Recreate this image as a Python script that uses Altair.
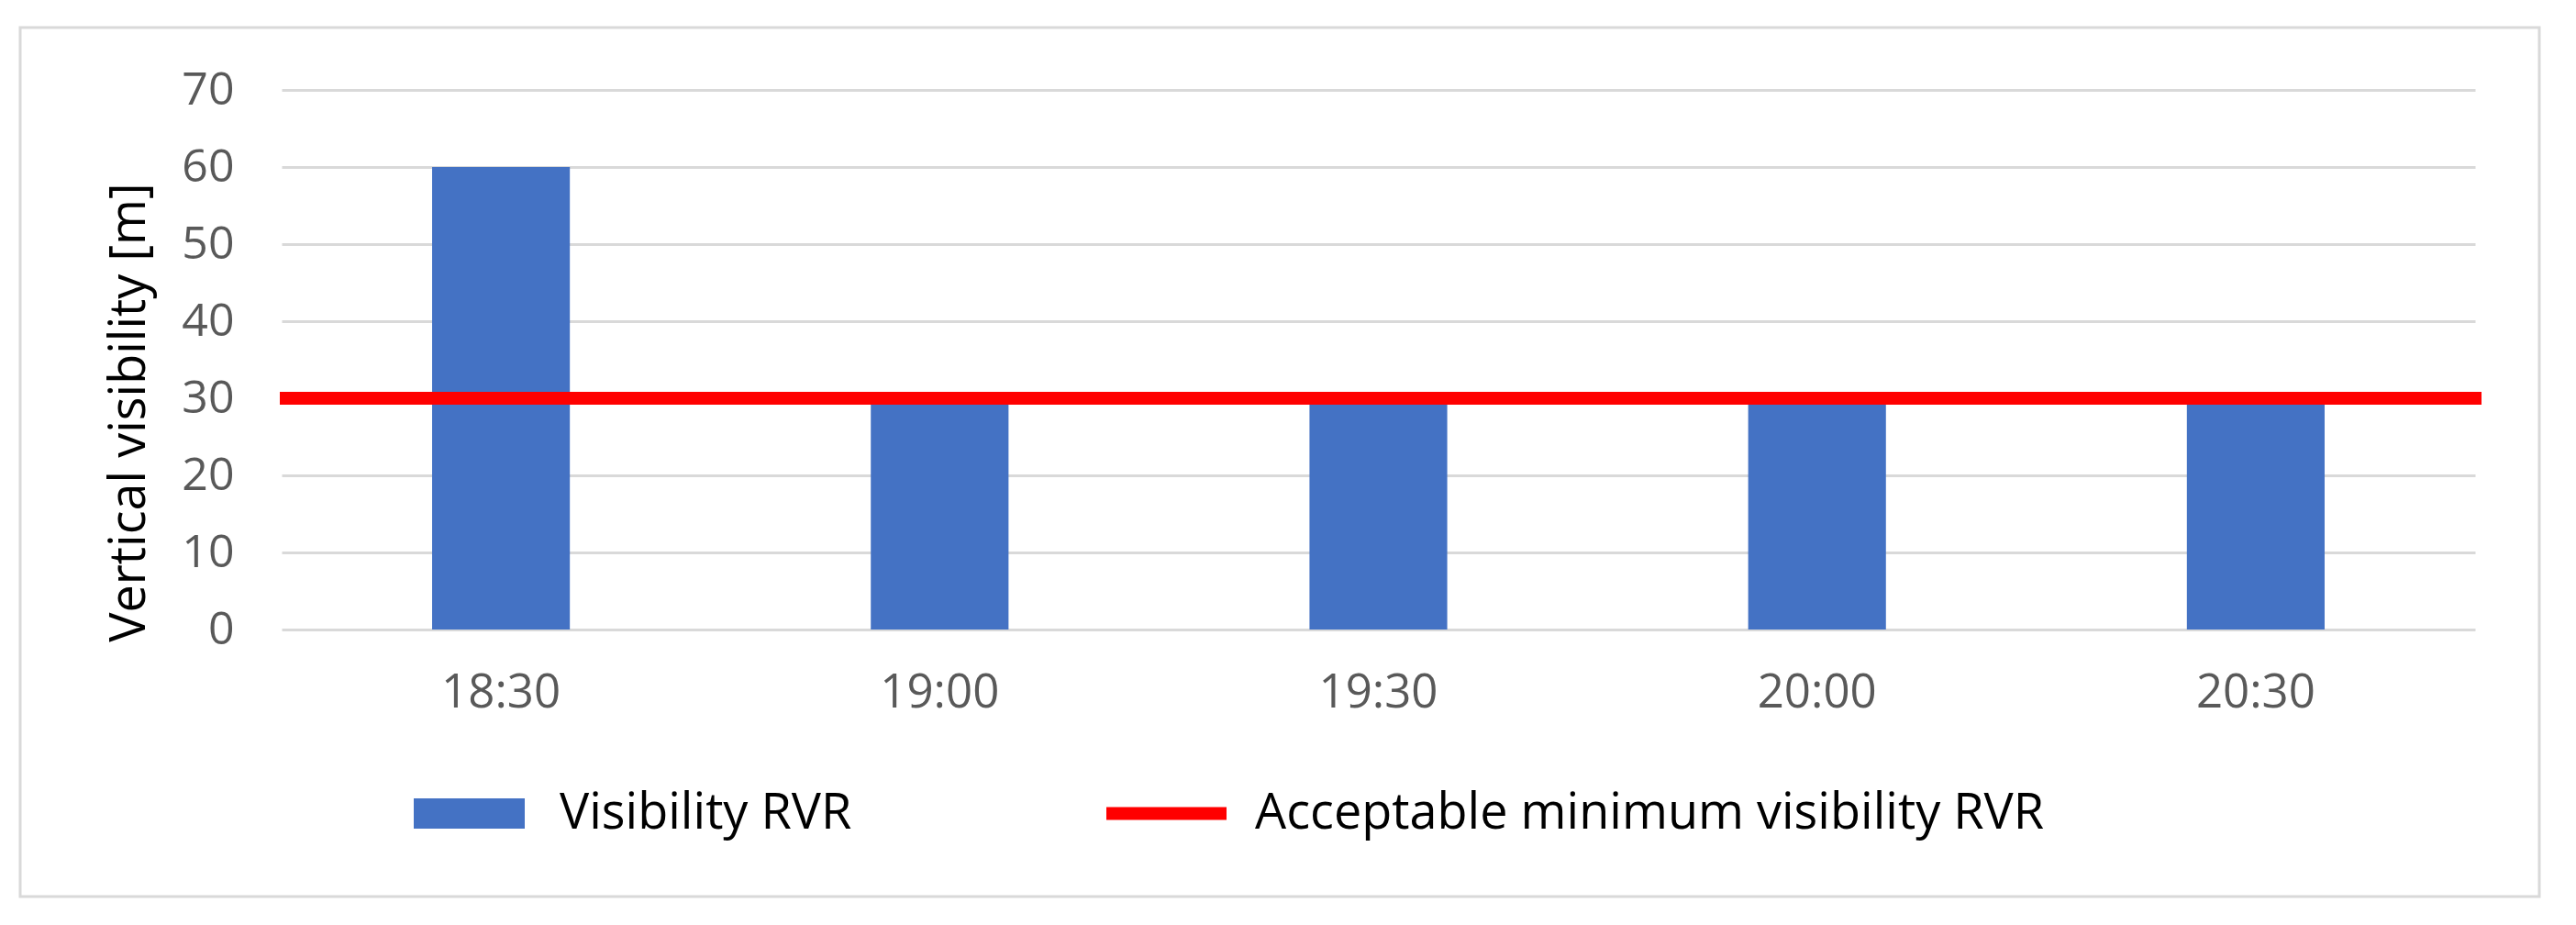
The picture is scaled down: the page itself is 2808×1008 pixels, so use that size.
import altair as alt
import pandas as pd

times = ["18:30", "19:00", "19:30", "20:00", "20:30"]
visibility = [60, 30, 30, 30, 30]
minimum_visibility = 30
bar_series = "Visibility RVR"
line_series = "Acceptable minimum visibility RVR"
y_ticks = [0, 10, 20, 30, 40, 50, 60, 70]

W, H = 2391, 588
FONT = "Open Sans"

bars_df = pd.DataFrame({"time": times, "value": visibility, "series": [bar_series] * len(times)})
rule_df = pd.DataFrame({"value": [minimum_visibility], "series": [line_series]})
frame_df = pd.DataFrame({"k": [0]})

frame = alt.Chart(frame_df).mark_rect(
    fill=None, stroke="#d9d9d9", strokeWidth=3, clip=False
).encode(
    x=alt.value(-285), x2=alt.value(2461), y=alt.value(-68), y2=alt.value(879)
)

bars = alt.Chart(bars_df).mark_bar(color="#4472C4").encode(
    x=alt.X(
        "time:N",
        sort=times,
        scale=alt.Scale(paddingInner=0.686, paddingOuter=0.343),
        axis=alt.Axis(
            title=None, labelAngle=0, ticks=False, domain=False,
            labelFont=FONT, labelFontSize=51, labelColor="#595959",
            labelPadding=44, grid=False,
        ),
    ),
    y=alt.Y(
        "value:Q",
        scale=alt.Scale(domain=[0, 70], nice=False),
        axis=alt.Axis(
            title="Vertical visibility [m]", values=y_ticks, ticks=False, domain=False,
            labelFont=FONT, labelFontSize=50, labelColor="#595959", labelPadding=52,
            gridColor="#d9d9d9", gridWidth=3,
            titleFont=FONT, titleFontSize=54, titleColor="#000000", titleFontWeight="normal",
            titleAngle=-90, titleX=-150, titleY=351, titleAlign="center",
            titleBaseline="alphabetic",
        ),
    ),
    fill=alt.Fill(
        "series:N",
        scale=alt.Scale(domain=[bar_series], range=["#4472C4"]),
        legend=alt.Legend(
            title=None, orient="none", legendX=144, legendY=728, padding=0,
            symbolType="M-1,-0.273L1,-0.273L1,0.273L-1,0.273Z",
            symbolSize=14641, symbolStrokeWidth=0, symbolOpacity=1,
            labelFont=FONT, labelFontSize=54, labelColor="#000000", labelOffset=38,
            labelBaseline="middle", labelLimit=2000,
        ),
    ),
)

rule = alt.Chart(rule_df).mark_rule(strokeWidth=14).encode(
    y=alt.Y("value:Q"),
    x=alt.value(-2),
    x2=alt.value(W + 7),
    stroke=alt.Stroke(
        "series:N",
        scale=alt.Scale(domain=[line_series], range=["#FF0000"]),
        legend=alt.Legend(
            title=None, orient="none", legendX=892, legendY=716, padding=0,
            symbolType="stroke", symbolSize=17161, symbolStrokeWidth=14,
            labelFont=FONT, labelFontSize=54, labelColor="#000000", labelOffset=24,
            labelBaseline="middle", labelLimit=2000,
        ),
    ),
)

chart = alt.layer(frame, bars, rule).resolve_scale(fill="independent", stroke="independent").properties(
    width=W, height=H,
    autosize=alt.AutoSizeParams(type="none"),
    padding={"left": 299, "top": 90, "right": 90, "bottom": 300},
    background="#ffffff",
).configure_view(stroke=None)

chart.save("out.html", embed_options={"renderer": "svg", "actions": False})
